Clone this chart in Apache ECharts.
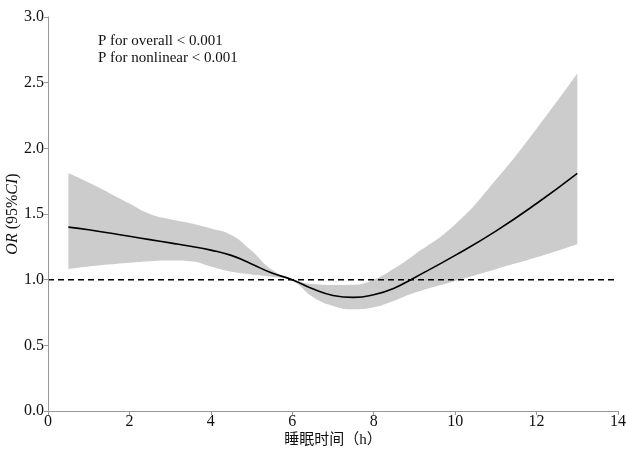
<!DOCTYPE html>
<html><head><meta charset="utf-8">
<script src="https://cdn.jsdelivr.net/npm/echarts@6/dist/echarts.min.js"></script>
<style>html,body{margin:0;padding:0;background:#fff}#c{width:626px;height:450px}</style>
</head><body><div id="c"></div>
<script>
const sleepHours = [0.5,1,2,2.5,3,3.5,4,4.5,5,5.5,6,6.5,7,7.5,8,8.5,9,10,11,12,13];
const orMean  = [1.40,1.38,1.33,1.305,1.28,1.255,1.225,1.185,1.12,1.05,1.00,0.93,0.88,0.865,0.885,0.935,1.015,1.185,1.37,1.58,1.81];
const ciLower = [1.08,1.10,1.128,1.14,1.145,1.14,1.10,1.06,1.04,1.022,0.99,0.87,0.80,0.775,0.79,0.84,0.90,0.99,1.08,1.17,1.27];
const ciUpper = [1.81,1.74,1.58,1.50,1.46,1.43,1.39,1.34,1.22,1.075,1.005,0.967,0.96,0.962,1.00,1.085,1.19,1.42,1.76,2.15,2.57];
const refLineX = [0,14];
const refLineY = [1,1];
const xTicks = {min:0,max:14,interval:2};
const yTicks = {min:0,max:3,interval:0.5};
const annotations = ['P for overall < 0.001','P for nonlinear < 0.001'];

const serif = '"Liberation Serif","Noto Sans CJK SC",serif';
const chart = echarts.init(document.getElementById('c'));
chart.setOption({
  backgroundColor:'#fff',
  animation:false,
  grid:{left:48,right:8,top:17,bottom:39,containLabel:false,outerBoundsMode:'none'},
  xAxis:{type:'value',min:xTicks.min,max:xTicks.max,interval:xTicks.interval,z:10,
    name:'睡眠时间（h）',nameLocation:'middle',nameGap:22,nameMoveOverlap:false,
    nameTextStyle:{fontFamily:serif,fontSize:15,color:'#111'},
    axisLine:{lineStyle:{color:'#999',width:1}},
    axisTick:{length:4,lineStyle:{color:'#999'}},
    axisLabel:{fontFamily:serif,fontSize:16,color:'#111',margin:3},
    splitLine:{show:false}},
  yAxis:{type:'value',min:yTicks.min,max:yTicks.max,interval:yTicks.interval,z:10,
    name:'{i|OR} (95%{i|CI})',nameLocation:'middle',nameGap:27,nameMoveOverlap:false,
    nameTextStyle:{fontFamily:serif,fontSize:16,color:'#111',rich:{i:{fontStyle:'italic',fontFamily:serif,fontSize:16,color:'#111'}}},
    axisLine:{show:true,lineStyle:{color:'#999',width:1}},
    axisTick:{show:true,length:4,lineStyle:{color:'#999'}},
    axisLabel:{fontFamily:serif,fontSize:16,color:'#111',margin:4,formatter:v=>v.toFixed(1)},
    splitLine:{show:false}},
  graphic:[{type:'text',left:98,top:33,z:20,style:{text:annotations.join('\n'),font:'15px '+serif,fill:'#111',lineHeight:17}}],
  series:[
    {type:'line',name:'lower',data:sleepHours.map((x,i)=>[ciLower[i],x]),encode:{x:1,y:0},stack:'ci',smooth:true,symbol:'none',lineStyle:{width:0,opacity:0},silent:true,z:1},
    {type:'line',name:'band',data:sleepHours.map((x,i)=>[ciUpper[i]-ciLower[i],x]),encode:{x:1,y:0},stack:'ci',smooth:true,symbol:'none',lineStyle:{width:0,opacity:0},areaStyle:{color:'#cccccc',opacity:1},silent:true,z:1},
    {type:'line',name:'ref',data:refLineX.map((x,i)=>[x,refLineY[i]]),symbol:'none',lineStyle:{color:'#000',width:1.5,type:[6,4]},z:3},
    {type:'line',name:'OR',data:sleepHours.map((x,i)=>[x,orMean[i]]),smooth:true,symbol:'none',lineStyle:{color:'#000',width:1.6},z:4}
  ]
});
</script></body></html>
